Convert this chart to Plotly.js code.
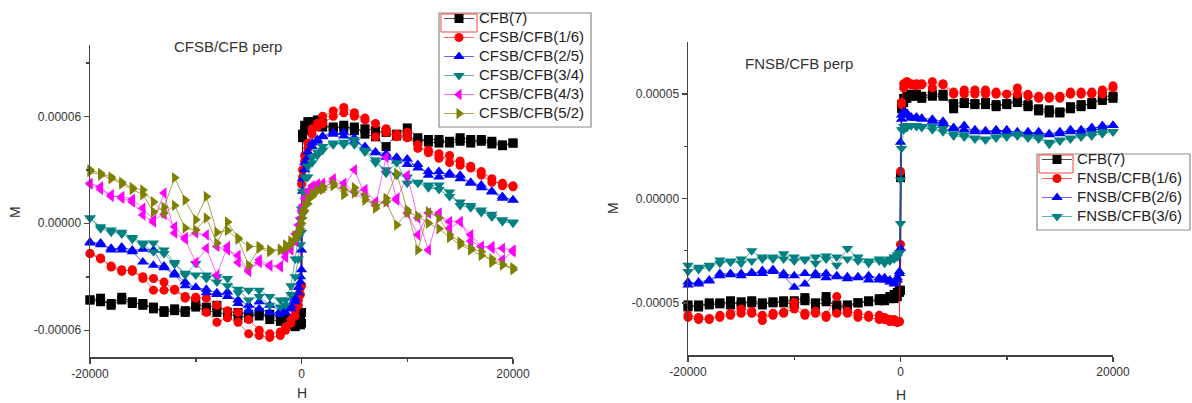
<!DOCTYPE html>
<html><head><meta charset="utf-8">
<script src="https://cdn.plot.ly/plotly-3.0.1.min.js"></script>
<style>html,body{margin:0;padding:0;background:#fff}#chart{width:1192px;height:403px}</style>
</head><body><div id="chart"></div>
<script>
// Field grid H (Oe), shared by all sweeps
const H = [-20000,-19000,-18000,-17000,-16000,-15000,-14000,-13000,-12000,-11000,-10000,-9000,-8000,-7000,-6000,-5000,-4000,-3000,-2000,
  -1500,-1000,-600,-300,-100,0,100,300,600,1000,1500,
  2000,3000,4000,5000,6000,7000,8000,9000,10000,11000,12000,13000,14000,15000,16000,17000,18000,19000,20000];
const UNIT = 1e-5; // M values below are in units of 1e-5

// ---- Left panel: CFSB/CFB perp (dn = sweep from +H to -H, up = sweep from -H to +H; listed in ascending H order)
const cfb7L_dn = [-4.3,-4.4,-4.5,-4.15,-4.4,-4.6,-4.7,-5.0,-4.9,-5.0,-4.5,-4.7,-4.6,-5.0,-5.0,-5.1,-5.2,-5.1,-5.2,
  -5.3,-5.4,-5.5,-5.6,-5.7,-5.6,5.0,5.5,5.7,5.6,5.5,
  5.4,5.4,5.35,5.4,5.0,4.85,4.3,5.0,5.35,4.8,4.55,4.5,4.6,4.8,4.7,4.6,4.45,4.35,4.5];
const cfb7L_up = [-4.3,-4.2,-4.6,-4.3,-4.5,-4.5,-4.8,-4.9,-4.8,-4.9,-4.7,-4.9,-5.0,-5.1,-5.2,-5.3,-5.0,-5.4,-5.5,
  -5.6,-5.7,-5.8,-5.6,-5.4,-5.0,4.8,5.2,5.4,5.7,5.8,
  5.6,5.3,5.5,5.2,5.3,5.2,5.1,4.9,4.9,4.6,4.7,4.7,4.5,4.6,4.5,4.7,4.6,4.4,4.5];
const cfsb16L_dn = [-1.7,-1.95,-2.45,-2.7,-2.6,-3.1,-3.1,-3.3,-3.75,-4.2,-4.15,-4.2,-4.6,-4.9,-5.0,-5.4,-6.0,-6.2,-6.1,
  -5.8,-5.4,-4.9,-4.3,-3.6,2.2,3.0,3.8,4.5,5.3,5.6,
  6.0,6.3,6.5,6.2,5.8,5.6,5.1,4.85,4.8,4.4,3.95,3.65,3.8,3.25,3.1,2.7,2.3,2.25,2.1];
const cfsb16L_up = [-1.7,-2.0,-2.4,-2.6,-2.7,-3.0,-3.75,-3.75,-3.7,-4.1,-4.2,-5.0,-5.55,-5.3,-5.55,-6.2,-6.3,-6.4,-6.3,
  -6.0,-5.6,-5.2,-4.6,-4.0,-3.5,2.6,3.5,4.2,5.0,5.4,
  5.6,6.0,6.2,6.0,5.9,4.85,5.3,5.0,5.1,4.2,4.1,3.9,3.4,3.5,3.2,2.9,2.5,2.1,2.05];
const cfsb25L_dn = [-1.05,-1.1,-1.5,-1.33,-1.5,-1.45,-1.5,-2.5,-2.9,-3.5,-3.6,-3.9,-4.0,-3.85,-4.5,-4.9,-4.4,-4.6,-4.9,
  -4.8,-4.6,-4.2,-3.6,-3.0,-1.5,2.5,3.4,4.0,4.5,4.7,
  4.85,5.0,5.1,4.8,4.2,3.95,3.7,3.7,3.3,3.3,2.7,2.9,2.7,2.7,2.25,2.15,1.75,1.4,1.3];
const cfsb25L_up = [-1.1,-1.2,-1.4,-1.5,-1.6,-2.17,-2.35,-2.4,-2.8,-3.3,-3.6,-3.7,-3.9,-4.1,-4.3,-4.6,-4.8,-5.0,-5.1,
  -5.0,-4.8,-4.4,-3.9,-3.3,-2.6,1.8,3.0,3.7,4.3,4.6,
  4.9,5.1,4.9,4.6,4.3,4.0,3.9,3.5,3.6,3.1,2.9,2.6,2.8,2.5,2.3,2.0,1.8,1.5,1.3];
const cfsb34L_dn = [0.3,-0.2,-0.38,-0.5,-0.8,-1.1,-1.1,-1.5,-2.2,-2.9,-2.25,-2.9,-3.0,-3.1,-3.9,-3.75,-3.75,-4.1,-4.3,
  -4.3,-3.5,-2.0,-0.8,0.2,0.8,1.8,2.6,3.2,3.7,4.0,
  4.1,4.4,4.55,4.7,4.1,3.55,2.8,3.4,2.25,2.25,2.15,2.15,1.75,1.0,0.87,0.75,0.35,0.2,0.07];
const cfsb34L_up = [0.3,-0.3,-0.5,-0.6,-0.9,-1.2,-1.6,-1.7,-2.3,-2.8,-2.9,-3.1,-3.3,-3.5,-3.7,-4.3,-4.1,-4.6,-4.7,
  -4.6,-4.0,-3.0,-2.0,-1.2,-0.5,0.5,1.8,2.6,3.4,3.8,
  4.3,4.5,4.4,4.4,4.0,3.4,3.0,2.7,2.6,2.3,2.0,1.9,1.5,1.2,1.0,0.6,0.5,0.1,0.0];
const cfsb43L_dn = [2.25,2.05,1.5,1.5,1.35,0.85,0.19,0.5,-0.2,-0.8,-0.55,-0.65,-1.3,-1.5,-1.8,-2.7,-2.05,-2.35,-2.45,
  -1.7,-1.2,-0.6,-0.1,0.3,0.7,1.0,1.4,1.8,2.1,2.2,
  2.25,2.5,2.25,1.75,1.9,1.2,1.2,1.4,0.57,-0.65,0.57,0.47,0.1,0.07,-0.65,-1.3,-1.4,-1.4,-1.5];
const cfsb43L_up = [2.2,1.9,1.6,1.4,1.2,0.47,0.07,1.7,-0.55,-0.9,-2.2,-1.4,-2.9,-1.3,-2.2,-2.6,-2.2,-2.4,-2.4,
  -1.9,-1.5,-1.0,-0.5,-0.1,0.3,0.6,1.0,1.4,1.8,2.1,
  2.0,2.3,2.0,3.0,1.6,1.0,3.7,1.3,2.7,0.3,-1.5,0.57,-0.28,0.1,-1.0,-1.3,-1.3,-2.05,-1.6];
const cfsb52L_dn = [3.0,2.8,2.6,2.3,2.0,1.87,1.2,0.57,1.0,-0.27,-0.38,0.3,-1.1,0.07,-0.83,-1.3,-1.3,-1.5,-1.5,
  -1.2,-1.0,-0.7,-0.4,-0.1,0.3,0.6,1.0,1.4,1.7,1.9,
  2.05,2.25,1.6,2.0,1.5,0.85,1.4,2.8,0.75,-1.5,0.64,0.3,-0.65,-1.05,-1.4,-1.6,-2.2,-2.35,-2.5];
const cfsb52L_up = [2.9,2.7,2.5,2.2,1.9,1.6,0.64,0.9,2.55,1.3,0.2,1.5,-0.5,-0.4,-0.9,-2.35,-1.4,-1.6,-1.45,
  -1.4,-1.2,-0.9,-0.6,-0.3,0.0,0.3,0.7,1.1,1.5,1.8,
  1.9,2.1,1.9,1.7,1.3,1.0,1.2,-0.1,0.6,0.4,0.0,-0.3,-0.8,-1.2,-1.5,-1.8,-2.0,-2.3,-2.6];

// ---- Right panel: FNSB/CFB perp
const cfb7R_dn = [-5.2,-5.1,-5.1,-5.05,-4.9,-5.1,-4.9,-5.0,-5.0,-4.9,-4.9,-4.75,-5.0,-4.7,-5.3,-5.1,-5.0,-4.9,-4.9,
  -4.8,-4.7,-4.6,-4.5,-4.4,1.0,4.5,4.8,4.9,5.0,4.9,
  4.9,5.0,5.0,4.3,4.55,4.55,4.5,4.5,4.5,4.75,4.5,4.3,4.25,4.15,4.4,4.5,4.5,4.9,4.9];
const cfb7R_up = [-5.1,-5.2,-5.0,-5.0,-5.1,-4.95,-5.0,-5.1,-4.95,-5.0,-5.05,-4.9,-5.1,-4.95,-5.1,-5.2,-5.0,-4.95,-4.8,
  -4.9,-4.8,-4.8,-4.7,-4.5,-4.4,4.3,4.6,4.8,4.9,5.0,
  4.8,4.9,4.9,4.55,4.6,4.5,4.6,4.4,4.55,4.6,4.4,4.2,4.1,4.1,4.3,4.4,4.6,4.7,4.8];
const fnsb16R_dn = [-5.7,-5.8,-5.8,-5.6,-5.5,-5.3,-5.4,-5.85,-5.5,-5.5,-4.97,-5.5,-5.4,-5.6,-4.7,-5.4,-5.5,-5.6,-5.6,
  -5.7,-5.8,-5.8,-5.9,-5.9,1.3,4.5,5.3,5.6,5.45,5.5,
  5.45,5.6,5.45,5.0,5.2,5.0,5.2,5.0,5.0,5.3,4.9,4.9,4.8,4.8,5.0,5.0,5.1,5.0,5.4];
const fnsb16R_up = [-5.6,-5.7,-5.75,-5.7,-5.6,-5.5,-5.5,-5.6,-5.6,-5.45,-5.3,-5.6,-5.5,-5.7,-5.5,-5.5,-5.7,-5.7,-5.8,
  -5.8,-5.9,-5.9,-5.95,-5.9,-2.2,4.6,5.5,5.6,5.5,5.4,
  5.5,5.3,5.5,5.1,5.0,5.2,5.0,5.1,5.0,5.0,5.0,4.8,4.9,4.9,5.1,5.1,5.0,5.2,5.3];
const fnsb26R_dn = [-4.15,-4.0,-3.9,-3.6,-3.6,-3.6,-3.6,-3.45,-3.4,-3.7,-4.25,-4.1,-3.6,-3.6,-3.75,-3.75,-3.8,-3.7,-3.8,
  -3.8,-3.9,-4.0,-3.9,-3.6,2.7,4.0,4.15,4.0,3.85,3.9,
  3.85,3.8,3.7,3.35,3.5,3.2,3.2,3.3,3.2,3.2,3.1,3.2,3.05,3.1,3.3,3.2,3.3,3.5,3.5];
const fnsb26R_up = [-4.0,-4.1,-3.95,-3.7,-3.65,-3.7,-3.55,-3.6,-3.5,-3.6,-3.7,-3.6,-3.7,-3.8,-3.7,-3.85,-3.75,-3.9,-3.9,
  -3.9,-4.0,-4.1,-3.8,-3.5,-2.4,3.8,4.0,4.1,3.9,3.85,
  3.8,3.7,3.6,3.4,3.3,3.3,3.25,3.2,3.3,3.1,3.2,3.1,3.1,3.2,3.2,3.3,3.4,3.4,3.5];
const fnsb36R_dn = [-3.2,-3.4,-3.3,-2.95,-3.05,-3.1,-2.5,-2.9,-2.9,-2.65,-2.8,-2.95,-2.8,-2.75,-3.2,-2.4,-2.8,-3.0,-2.9,
  -3.0,-2.9,-2.8,-2.7,-2.6,0.9,3.3,3.45,3.5,3.5,3.45,
  3.45,3.45,3.35,3.1,3.05,2.85,2.8,2.95,2.95,3.1,2.95,2.95,2.6,2.8,2.85,2.95,3.1,3.2,3.2];
const fnsb36R_up = [-3.5,-3.3,-3.2,-3.1,-3.0,-2.9,-3.0,-2.8,-2.8,-2.9,-3.0,-2.9,-3.1,-2.9,-2.8,-2.9,-3.0,-3.1,-3.0,
  -3.1,-3.0,-2.9,-2.8,-2.6,-1.2,2.4,3.3,3.4,3.5,3.5,
  3.4,3.3,3.2,3.0,2.95,2.9,2.85,2.9,3.0,3.0,2.9,2.85,2.7,2.75,2.9,3.0,3.0,3.1,3.2];

const namesL = ['CFB(7)','CFSB/CFB(1/6)','CFSB/CFB(2/5)','CFSB/CFB(3/4)','CFSB/CFB(4/3)','CFSB/CFB(5/2)'];
const namesR = ['CFB(7)','FNSB/CFB(1/6)','FNSB/CFB(2/6)','FNSB/CFB(3/6)'];
const xTickVals = [-20000, 0, 20000];
const xTickText = ['-20000', '0', '20000'];
const yTickValsL = [-0.00006, 0, 0.00006];
const yTickTextL = ['-0.00006', '0.00000', '0.00006'];
const yTickValsR = [-0.00005, 0, 0.00005];
const yTickTextR = ['-0.00005', '0.00000', '0.00005'];

const seriesL = [[cfb7L_dn,cfb7L_up],[cfsb16L_dn,cfsb16L_up],[cfsb25L_dn,cfsb25L_up],[cfsb34L_dn,cfsb34L_up],[cfsb43L_dn,cfsb43L_up],[cfsb52L_dn,cfsb52L_up]];
const seriesR = [[cfb7R_dn,cfb7R_up],[fnsb16R_dn,fnsb16R_up],[fnsb26R_dn,fnsb26R_up],[fnsb36R_dn,fnsb36R_up]];

const colors = ['#000000','#ff0000','#0000ff','#008080','#ff00ff','#808000'];
const lineColors = ['rgba(0,0,0,0.7)','rgba(255,0,0,0.6)','rgba(0,0,255,0.6)','rgba(0,128,128,0.6)','rgba(255,0,255,0.6)','rgba(128,128,0,0.7)'];
const symbols = ['square','circle','triangle-up','triangle-down','triangle-left','triangle-right'];
const sizes = [9, 9, 10, 10, 10, 10];

[...seriesL, ...seriesR].forEach((s,i)=>s.forEach(a=>{ if(a.length!==H.length) throw new Error('length mismatch in series '+i+': '+a.length); }));

function loop(dn, up){
  const x = H.slice().reverse().concat(H);
  const y = dn.slice().reverse().concat(up).map(v=>v*UNIT);
  return {x, y};
}
const FONT = 'Arial, "Liberation Sans", sans-serif';
const legName = n => '<span style="font-size:15px">' + n + '</span>';
const traces = [];
seriesL.forEach((s,i)=>{
  const d = loop(s[0], s[1]);
  traces.push({x:d.x, y:d.y, xaxis:'x', yaxis:'y', name:legName(namesL[i]), legend:'legend', type:'scatter', mode:'lines+markers',
    cliponaxis:false, line:{color:lineColors[i], width:1}, marker:{symbol:symbols[i], size:sizes[i], color:colors[i]}});
});
seriesR.forEach((s,i)=>{
  const d = loop(s[0], s[1]);
  traces.push({x:d.x, y:d.y, xaxis:'x2', yaxis:'y2', name:legName(namesR[i]), legend:'legend2', type:'scatter', mode:'lines+markers',
    cliponaxis:false, line:{color:lineColors[i], width:1}, marker:{symbol:symbols[i], size:sizes[i], color:colors[i]}});
});

const W = 1192, Ht = 403;
const axBase = {showline:true, linecolor:'#444', linewidth:1.5, ticks:'outside', ticklen:5, tickwidth:1.5, tickcolor:'#444',
  showgrid:false, zeroline:false, tickmode:'array', tickfont:{family:FONT, size:12, color:'#333'}, fixedrange:true};
const layout = {
  width:W, height:Ht, margin:{l:0,r:0,t:0,b:0}, paper_bgcolor:'#fff', plot_bgcolor:'rgba(0,0,0,0)',
  font:{family:FONT, color:'#333'}, showlegend:true,
  xaxis:Object.assign({}, axBase, {domain:[90/W, 513/W], range:[-20000,20000], anchor:'y', tickvals:xTickVals, ticktext:xTickText,
    minor:{tickmode:'array', tickvals:[-10000,10000], ticks:'outside', ticklen:3, tickwidth:1.5, tickcolor:'#444'}}),
  yaxis:Object.assign({}, axBase, {domain:[1-357/Ht, 1-45/Ht], range:[-0.000075,0.0001], anchor:'x', tickvals:yTickValsL, ticktext:yTickTextL,
    minor:{tickmode:'array', tickvals:[-0.00003,0.00003,0.00009], ticks:'outside', ticklen:3, tickwidth:1.5, tickcolor:'#444'}}),
  xaxis2:Object.assign({}, axBase, {domain:[688/W, 1113/W], range:[-20000,20000], anchor:'y2', tickvals:xTickVals, ticktext:xTickText,
    minor:{tickmode:'array', tickvals:[-10000,10000], ticks:'outside', ticklen:3, tickwidth:1.5, tickcolor:'#444'}}),
  yaxis2:Object.assign({}, axBase, {domain:[1-355/Ht, 1-42/Ht], range:[-0.000075,0.000075], anchor:'x2', tickvals:yTickValsR, ticktext:yTickTextR,
    minor:{tickmode:'array', tickvals:[-0.000025,0.000025], ticks:'outside', ticklen:3, tickwidth:1.5, tickcolor:'#444'}}),
  legend:{x:439/W, y:1-4/Ht, xanchor:'left', yanchor:'top', bgcolor:'rgba(255,255,255,0)', borderwidth:0,
    font:{family:FONT, size:12.3, color:'#222'}, tracegroupgap:0},
  legend2:{x:1037/W, y:1-145/Ht, xanchor:'left', yanchor:'top', bgcolor:'rgba(255,255,255,0)', borderwidth:0,
    font:{family:FONT, size:12.3, color:'#222'}, tracegroupgap:0},
  annotations:[
    {text:'CFSB/CFB perp', x:228/W, y:1-47/Ht, xref:'paper', yref:'paper', showarrow:false, xanchor:'center', yanchor:'middle', font:{family:FONT, size:15, color:'#333'}},
    {text:'FNSB/CFB perp', x:799/W, y:1-64/Ht, xref:'paper', yref:'paper', showarrow:false, xanchor:'center', yanchor:'middle', font:{family:FONT, size:15, color:'#333'}},
    {text:'M', x:15/W, y:1-212/Ht, xref:'paper', yref:'paper', showarrow:false, textangle:-90, xanchor:'center', yanchor:'middle', font:{family:FONT, size:14, color:'#333'}},
    {text:'H', x:302/W, y:1-393/Ht, xref:'paper', yref:'paper', showarrow:false, xanchor:'center', yanchor:'middle', font:{family:FONT, size:14, color:'#333'}},
    {text:'M', x:613/W, y:1-208/Ht, xref:'paper', yref:'paper', showarrow:false, textangle:-90, xanchor:'center', yanchor:'middle', font:{family:FONT, size:14, color:'#333'}},
    {text:'H', x:901/W, y:1-395/Ht, xref:'paper', yref:'paper', showarrow:false, xanchor:'center', yanchor:'middle', font:{family:FONT, size:14, color:'#333'}}
  ],
  shapes:[
    // legend frames
    {type:'rect', xref:'paper', yref:'paper', x0:439/W, x1:591/W, y0:1-127/Ht, y1:1-13/Ht, line:{color:'#888', width:1.2}, fillcolor:'rgba(255,255,255,0.9)', layer:'above'},
    {type:'rect', xref:'paper', yref:'paper', x0:1037/W, x1:1190/W, y0:1-230/Ht, y1:1-154/Ht, line:{color:'#888', width:1.2}, fillcolor:'rgba(255,255,255,0.9)', layer:'above'},
    // red selection marks around first legend samples
    {type:'rect', xref:'paper', yref:'paper', x0:441/W, x1:477/W, y0:1-32/Ht, y1:1-14/Ht, line:{color:'#ff4040', width:1}, layer:'above'},
    {type:'rect', xref:'paper', yref:'paper', x0:1039/W, x1:1073/W, y0:1-173/Ht, y1:1-155/Ht, line:{color:'#ff4040', width:1}, layer:'above'}
  ]
};
Plotly.newPlot('chart', traces, layout, {displayModeBar:false, staticPlot:true});
</script>
</body></html>
